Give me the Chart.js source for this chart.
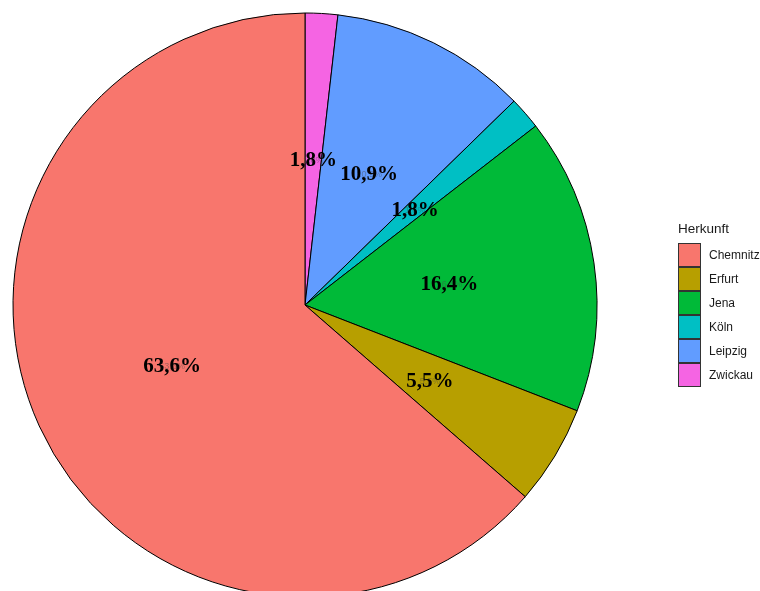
<!DOCTYPE html>
<html>
<head>
<meta charset="utf-8">
<script src="https://cdn.jsdelivr.net/npm/chart.js@4/dist/chart.umd.min.js"></script>
<style>
  html, body { margin: 0; padding: 0; background: #fff; overflow: hidden; }
  #wrap { position: relative; width: 760px; height: 591px; }
  #legend { position: absolute; left: 678px; top: 221px; font-family: "Liberation Sans", Arial, sans-serif; }
  #legend .title { font-size: 13.5px; color: #1a1a1a; height: 22px; }
  #legend .item { display: flex; align-items: center; height: 24px; }
  #legend .key { width: 21px; height: 22px; border: 1px solid #333; box-sizing: content-box; }
  #legend .lbl { font-size: 12px; color: #1a1a1a; margin-left: 8px; }
</style>
</head>
<body>
<div id="wrap">
  <canvas id="myChart" width="760" height="591"></canvas>
  <div id="legend"></div>
</div>
<script>
const ctx = document.getElementById('myChart').getContext('2d');

// Herkunft der Teilnehmer, Anteile in Prozent
const cities = ['Chemnitz', 'Erfurt', 'Jena', 'Köln', 'Leipzig', 'Zwickau'];
const shares = [63.6, 5.5, 16.4, 1.8, 10.9, 1.8];
const colors = ['#F8766D', '#B79F00', '#00BA38', '#00BFC4', '#619CFF', '#F564E3'];

// ggplot dreht gegen den Uhrzeigersinn, Chart.js im Uhrzeigersinn -> umdrehen
const pieLabels = [...cities].reverse();
const pieData = [...shares].reverse();
const pieColors = [...colors].reverse();

const fmt = v => v.toFixed(1).replace('.', ',') + '%';

const sliceLabels = {
    id: 'sliceLabels',
    afterDatasetsDraw(chart) {
        const meta = chart.getDatasetMeta(0);
        const c = chart.ctx;
        c.save();
        c.textAlign = 'center';
        c.textBaseline = 'middle';
        meta.data.forEach((arc, i) => {
            const p = arc.getProps(['x', 'y', 'startAngle', 'endAngle', 'outerRadius'], true);
            const mid = (p.startAngle + p.endAngle) / 2;
            const r = p.outerRadius * 0.5;
            const x = p.x + Math.cos(mid) * r;
            const y = p.y + Math.sin(mid) * r;
            const txt = fmt(pieData[i]);
            // kleiner Schatten-Text
            c.font = '9px "Liberation Sans", Arial, sans-serif';
            c.fillStyle = 'rgba(70,70,70,0.45)';
            c.fillText(txt, x, y + 1);
            c.font = 'bold 21px "Liberation Serif", "Times New Roman", serif';
            c.fillStyle = '#000';
            c.fillText(txt, x, y + 1);
        });
        c.restore();
    }
};

const myChart = new Chart(ctx, {
    type: 'pie',
    data: {
        labels: pieLabels,
        datasets: [{
            data: pieData,
            backgroundColor: pieColors,
            borderColor: '#000',
            borderWidth: 1,
            clip: false
        }]
    },
    options: {
        responsive: false,
        animation: false,
        radius: 292,
        layout: { padding: { left: 13, right: 163, top: 19, bottom: 0 } },
        plugins: {
            legend: { display: false },
            tooltip: { enabled: false }
        }
    },
    plugins: [sliceLabels]
});

// Legende rechts
const legend = document.getElementById('legend');
legend.innerHTML = '<div class="title">Herkunft</div>' + cities.map((name, i) =>
    `<div class="item"><div class="key" style="background:${colors[i]}"></div><span class="lbl">${name}</span></div>`
).join('');
</script>
</body>
</html>
